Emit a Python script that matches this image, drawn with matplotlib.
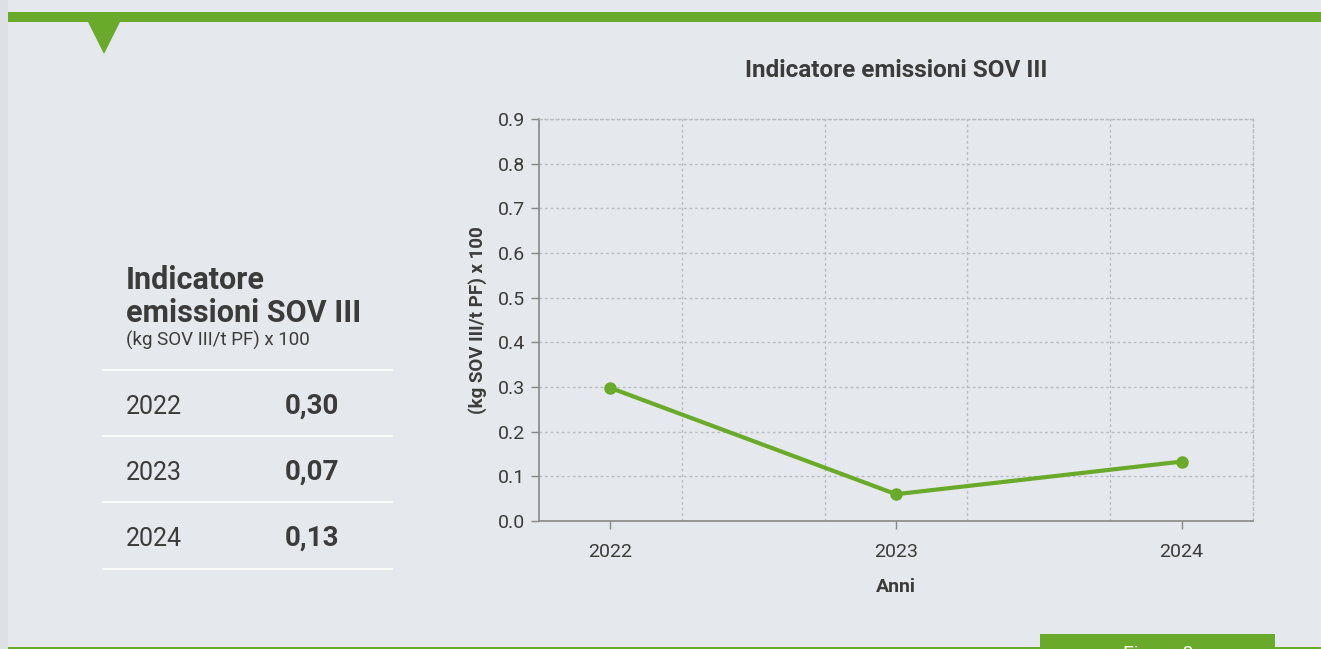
import matplotlib.pyplot as plt
from matplotlib.patches import Rectangle, Polygon

# data
anni = [2022, 2023, 2024]
valori_grafico = [0.298, 0.06, 0.133]
valori_tabella = ["0,30", "0,07", "0,13"]
y_ticks = [0.0, 0.1, 0.2, 0.3, 0.4, 0.5, 0.6, 0.7, 0.8, 0.9]

VERDE = "#6aaa2a"
SFONDO = "#e5e8ec"
TESTO = "#3b3b3b"
GRIGLIA = "#b9bcc0"

plt.rcParams['font.family'] = ['Roboto', 'DejaVu Sans']

W, H = 1321, 649
fig = plt.figure(figsize=(W / 100, H / 100), dpi=100)
fig.patch.set_facecolor(SFONDO)


def px(x, y):
    # pixel (top-left origin) -> figure fraction
    return x / W, 1 - y / H


# decorations
fig.patches.append(Rectangle((0, 0), 8 / W, 1, transform=fig.transFigure,
                             facecolor="#dde1e5", edgecolor="none"))
fig.patches.append(Rectangle(px(8, 22), 1, 10 / H, transform=fig.transFigure,
                             facecolor=VERDE, edgecolor="none"))
fig.patches.append(Polygon([px(88, 22), px(120, 22), px(104, 54)], closed=True,
                           transform=fig.transFigure, facecolor=VERDE, edgecolor="none"))
fig.patches.append(Rectangle(px(8, 649), 1, 2 / H, transform=fig.transFigure,
                             facecolor=VERDE, edgecolor="none"))
fig.patches.append(Rectangle(px(1040, 649), 235 / W, 15 / H, transform=fig.transFigure,
                             facecolor=VERDE, edgecolor="none"))
fig.text(*px(1158, 659), "Figura 8", color="white", fontsize=14,
         ha="center", va="baseline")

# left table
fig.text(*px(126, 289), "Indicatore", fontsize=22, fontweight="bold",
         color=TESTO, va="baseline", ha="left")
fig.text(*px(126, 322), "emissioni SOV III", fontsize=22, fontweight="bold",
         color=TESTO, va="baseline", ha="left")
fig.text(*px(126, 346), "(kg SOV III/t PF) x 100", fontsize=13.5, color=TESTO,
         va="baseline", ha="left")
for yl in [370, 436, 502, 569]:
    fig.add_artist(plt.Line2D([103 / W, 392 / W], [1 - yl / H] * 2,
                              transform=fig.transFigure, color="white", lw=1.2))
for i, (anno, val) in enumerate(zip(anni, valori_tabella)):
    yb = 414 + i * 66
    fig.text(*px(126, yb), str(anno), fontsize=18, fontweight="normal", color=TESTO,
             va="baseline", ha="left")
    fig.text(*px(285, yb), val, fontsize=20, fontweight="bold", color=TESTO,
             va="baseline", ha="left")

# chart
x0, x1, yt, yb = 539, 1253, 119, 521
ax = fig.add_axes([x0 / W, 1 - yb / H, (x1 - x0) / W, (yb - yt) / H])
ax.set_facecolor(SFONDO)
ax.plot(anni, valori_grafico, color=VERDE, lw=3, marker="o", markersize=8,
        solid_capstyle="round", zorder=3)
ax.set_xlim(2021.75, 2024.25)
ax.set_ylim(0, 0.9)
ax.set_xticks(anni)
ax.set_xticklabels([str(a) for a in anni])
ax.set_xticks([2022.25, 2022.75, 2023.25, 2023.75], minor=True)
ax.set_yticks(y_ticks)
ax.set_yticklabels([f"{v:.1f}" for v in y_ticks])
ax.grid(True, axis="y", which="major", color=GRIGLIA, ls=(0, (2, 2)), lw=1)
ax.grid(True, axis="x", which="minor", color=GRIGLIA, ls=(0, (2, 2)), lw=1)
ax.grid(False, axis="x", which="major")
ax.tick_params(axis="x", which="minor", length=0)
ax.tick_params(axis="both", which="major", colors="#888888", labelcolor=TESTO,
               labelsize=14, length=6, width=1)
ax.tick_params(axis="x", pad=10)
ax.tick_params(axis="y", pad=4)
for s in ["left", "bottom"]:
    ax.spines[s].set_color("#888888")
    ax.spines[s].set_linewidth(1.2)
for s in ["top", "right"]:
    ax.spines[s].set_color(GRIGLIA)
    ax.spines[s].set_linestyle((0, (2, 2)))
    ax.spines[s].set_linewidth(1)
ax.set_ylabel("(kg SOV III/t PF) x 100", fontsize=13.5, fontweight="bold", color=TESTO,
              labelpad=8)
ax.set_xlabel("Anni", fontsize=14, fontweight="bold", color=TESTO, labelpad=12)
ax.set_title("Indicatore emissioni SOV III", fontsize=17.5, fontweight="bold", color=TESTO,
             pad=30)

fig.savefig("out.png", dpi=100, facecolor=fig.get_facecolor())
